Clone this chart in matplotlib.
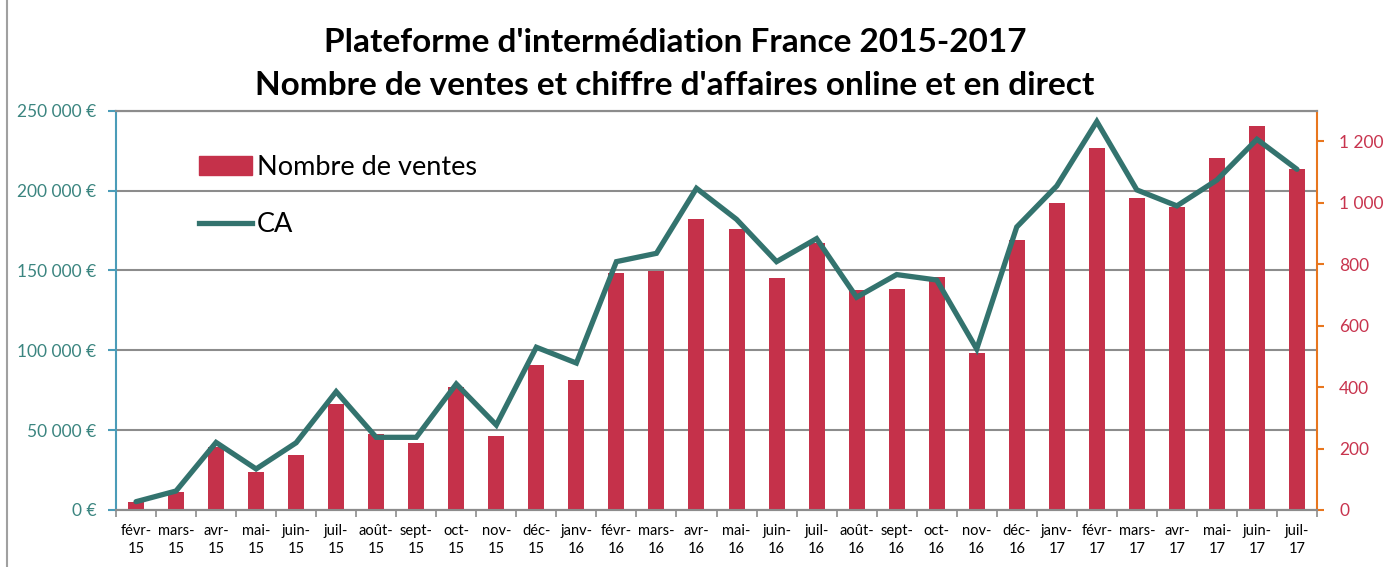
import matplotlib.pyplot as plt
import matplotlib.patches as mpatches
from matplotlib.lines import Line2D
from matplotlib.ticker import FuncFormatter, FixedLocator
import numpy as np

plt.rcParams['font.family'] = ['Lato', 'DejaVu Sans']

# months fevr-15 .. juil-17
mois = ['févr-15', 'mars-15', 'avr-15', 'mai-15', 'juin-15', 'juil-15', 'août-15', 'sept-15',
        'oct-15', 'nov-15', 'déc-15', 'janv-16', 'févr-16', 'mars-16', 'avr-16', 'mai-16',
        'juin-16', 'juil-16', 'août-16', 'sept-16', 'oct-16', 'nov-16', 'déc-16', 'janv-17',
        'févr-17', 'mars-17', 'avr-17', 'mai-17', 'juin-17', 'juil-17']

# number of sales (right axis)
nb_ventes = [25, 60, 206, 125, 179, 346, 248, 218, 400, 241, 473, 422,
             772, 777, 948, 915, 756, 870, 717, 720, 760, 511, 879, 998,
             1178, 1015, 987, 1145, 1250, 1109]

# turnover in euros (left axis)
ca = [5200, 11900, 42300, 25700, 42100, 74100, 45500, 45500, 78900, 53200, 101900, 92000,
      155500, 160700, 201400, 182000, 155500, 169900, 133200, 147400, 144000, 100800, 177200, 202900,
      243200, 200400, 190400, 206600, 232100, 213300]

titre = "Plateforme d'intermédiation France 2015-2017\nNombre de ventes et chiffre d'affaires online et en direct"

bar_color = '#C5314A'
line_color = '#33736E'

W, H = 1386, 567
fig = plt.figure(figsize=(W / 100, H / 100), dpi=100)
ax = fig.add_axes([116 / W, (H - 510) / H, (1317 - 116) / W, (510 - 110.7) / H])
ax2 = ax.twinx()

x = np.arange(len(mois))

# grid on left axis (behind the bars)
ax.set_ylim(0, 250000)
ax.set_yticks(np.arange(0, 250001, 50000))
ax.yaxis.grid(True, color='#8C8C8C', linewidth=1.5)
ax.set_axisbelow(True)
ax.yaxis.set_major_formatter(FuncFormatter(lambda v, p: f"{int(v):,} €".replace(",", " ")))

ax2.bar(x, nb_ventes, width=0.4, color=bar_color, zorder=2)
ax2.set_ylim(0, 1300)
ax2.set_yticks(np.arange(0, 1201, 200))
ax2.yaxis.set_major_formatter(FuncFormatter(lambda v, p: f"{int(v):,}".replace(",", " ")))

# CA line uses the left scale but is drawn above the bars
ax2.plot(x, ca, color=line_color, linewidth=3.8, transform=ax.transData, zorder=3,
         solid_joinstyle='miter', solid_capstyle='round')

ax.set_xlim(-0.5, len(mois) - 0.5)
ax.set_xticks(x)
ax.set_xticklabels([m.replace('-', '-\n') for m in mois], fontsize=10.5, linespacing=1.4)
ax.xaxis.set_minor_locator(FixedLocator(np.arange(-0.5, len(mois), 1)))
ax.tick_params(axis='x', which='major', length=0, pad=10)
ax.tick_params(axis='x', which='minor', length=5, width=1.2, color='#8C8C8C', direction='out')

ax.tick_params(axis='y', length=6, width=1.5, color='#4B9CB8', labelcolor='#3B8580',
               labelsize=12.5, pad=8)
ax2.tick_params(axis='y', length=5, width=1.5, color='#E8761E', labelcolor='#C8344E',
                labelsize=12.5, pad=11)

for a in (ax, ax2):
    a.spines['top'].set_color('#8C8C8C')
    a.spines['top'].set_linewidth(1.5)
    a.spines['bottom'].set_color('#8C8C8C')
    a.spines['bottom'].set_linewidth(1.5)
ax.spines['left'].set_color('#4B9CB8')
ax.spines['left'].set_linewidth(1.5)
ax2.spines['left'].set_visible(False)
ax.spines['right'].set_visible(False)
ax2.spines['right'].set_color('#E8761E')
ax2.spines['right'].set_linewidth(1.5)

handles = [mpatches.Patch(color=bar_color), Line2D([], [], color=line_color, linewidth=3.8)]
ax2.legend(handles, ['Nombre de ventes', 'CA'], loc='upper left', bbox_to_anchor=(0.069, 0.89),
           frameon=False, fontsize=19.5, handlelength=1.95, handletextpad=0.2,
           labelspacing=1.2, borderpad=0, borderaxespad=0)

fig.text(0.487, 0.887, titre, ha='center', va='center', fontsize=24, fontweight='bold',
         linespacing=1.55)

# chart area border on the left
fig.add_artist(Line2D([7 / W, 7 / W], [0, 1], color='#A0A0A0', linewidth=1.5))

fig.savefig('out.png', dpi=100)
